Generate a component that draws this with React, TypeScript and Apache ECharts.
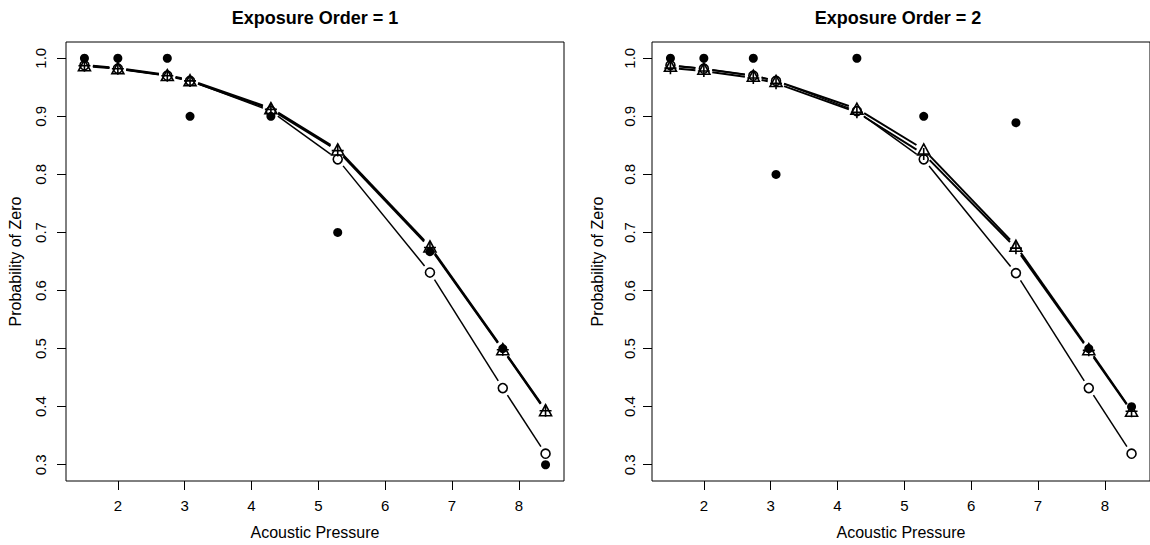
import React, { useEffect, useRef } from "react";
import * as echarts from "echarts";

// Acoustic pressure levels (x)
const pressure = [1.5, 2.0, 2.74, 3.08, 4.29, 5.29, 6.67, 7.76, 8.4];
const xTicks = [2, 3, 4, 5, 6, 7, 8];
const yTicks = [0.3, 0.4, 0.5, 0.6, 0.7, 0.8, 0.9, 1.0];

// Exposure Order = 1
const observed1 = [1.0, 1.0, 1.0, 0.9, 0.9, 0.7, 0.667, 0.5, 0.3];
const circleModel1 = [0.988, 0.982, 0.97, 0.961, 0.909, 0.826, 0.631, 0.432, 0.319];
const triangleModel1 = [0.988, 0.983, 0.971, 0.962, 0.914, 0.843, 0.676, 0.499, 0.394];
const plusModel1 = [0.987, 0.982, 0.97, 0.961, 0.912, 0.841, 0.674, 0.498, 0.393];

// Exposure Order = 2
const observed2 = [1.0, 1.0, 1.0, 0.8, 1.0, 0.9, 0.889, 0.5, 0.4];
const circleModel2 = [0.988, 0.982, 0.97, 0.961, 0.909, 0.826, 0.63, 0.432, 0.319];
const triangleModel2 = [0.987, 0.982, 0.97, 0.961, 0.913, 0.843, 0.677, 0.499, 0.393];
const plusModel2 = [0.983, 0.978, 0.966, 0.957, 0.907, 0.835, 0.673, 0.497, 0.392];

const FONT = "'Liberation Sans', Arial, Helvetica, sans-serif";
const PLUS_PATH = "path://M0,5L10,5M5,0L5,10";

function gapLine(xs: number[], ys: number[], idx: number, lw: number) {
  return {
    type: "custom",
    xAxisIndex: idx,
    yAxisIndex: idx,
    silent: true,
    clip: false,
    data: xs.map((x, i) => [x, ys[i]]),
    renderItem: (params: any, api: any) => {
      const i = params.dataIndex;
      if (i >= xs.length - 1) return { type: "group", children: [] };
      const p0 = api.coord([xs[i], ys[i]]);
      const p1 = api.coord([xs[i + 1], ys[i + 1]]);
      const dx = p1[0] - p0[0];
      const dy = p1[1] - p0[1];
      const len = Math.hypot(dx, dy);
      const g = 8.5;
      if (len <= 2 * g) return { type: "group", children: [] };
      const ux = dx / len;
      const uy = dy / len;
      return {
        type: "line",
        shape: {
          x1: p0[0] + ux * g,
          y1: p0[1] + uy * g,
          x2: p1[0] - ux * g,
          y2: p1[1] - uy * g,
        },
        style: { stroke: "#000", lineWidth: lw },
      };
    },
  };
}

function scatter(xs: number[], ys: number[], idx: number, kind: string) {
  const base: any = {
    type: "scatter",
    xAxisIndex: idx,
    yAxisIndex: idx,
    silent: true,
    data: xs.map((x, i) => [x, ys[i]]),
  };
  const open = { color: "rgba(0,0,0,0)", borderColor: "#000", borderWidth: 1.6, opacity: 1 };
  if (kind === "filled") {
    base.symbol = "circle";
    base.symbolSize = 9;
    base.itemStyle = { color: "#000", opacity: 1 };
  } else if (kind === "circle") {
    base.symbol = "circle";
    base.symbolSize = 9;
    base.itemStyle = open;
  } else if (kind === "triangle") {
    base.symbol = "triangle";
    base.symbolSize = [12, 11];
    base.itemStyle = open;
  } else {
    base.symbol = PLUS_PATH;
    base.symbolSize = 12;
    base.itemStyle = open;
  }
  return base;
}

function xAxisFor(idx: number) {
  return {
    type: "value",
    gridIndex: idx,
    min: 1.224,
    max: 8.676,
    name: "Acoustic Pressure",
    nameLocation: "middle",
    nameGap: 43,
    nameTextStyle: { fontSize: 16, color: "#000", fontFamily: FONT },
    axisLine: { show: false },
    axisTick: { show: true, customValues: xTicks, length: 9, lineStyle: { color: "#000", width: 1 } },
    axisLabel: { customValues: xTicks, fontSize: 15, color: "#000", margin: 17, fontFamily: FONT },
    splitLine: { show: false },
  };
}

function yAxisFor(idx: number, labelMargin: number, nameGap: number) {
  return {
    type: "value",
    gridIndex: idx,
    min: 0.272,
    max: 1.028,
    name: "Probability of Zero",
    nameLocation: "middle",
    nameGap: nameGap,
    nameTextStyle: { fontSize: 16, color: "#000", fontFamily: FONT },
    axisLine: { show: false },
    axisTick: { show: true, customValues: yTicks, length: 9, lineStyle: { color: "#000", width: 1 } },
    axisLabel: {
      customValues: yTicks,
      fontSize: 15,
      color: "#000",
      rotate: 90,
      margin: labelMargin,
      fontFamily: FONT,
      formatter: (v: number) => v.toFixed(1),
    },
    splitLine: { show: false },
  };
}

export default function App() {
  const ref = useRef<HTMLDivElement>(null);
  useEffect(() => {
    if (!ref.current) return;
    const chart = echarts.init(ref.current, null, { renderer: "svg" });
    chart.setOption({
      animation: false,
      backgroundColor: "#fff",
      textStyle: { fontFamily: FONT },
      grid: [
        { left: 66, right: 586, top: 42, bottom: 63, show: true, borderColor: "#000", borderWidth: 1, backgroundColor: "transparent" },
        { left: 652, right: 0, top: 42, bottom: 63, show: true, borderColor: "#000", borderWidth: 1, backgroundColor: "transparent" },
      ],
      xAxis: [xAxisFor(0), xAxisFor(1)],
      yAxis: [yAxisFor(0, 18, 43), yAxisFor(1, 15, 47)],
      graphic: [
        {
          type: "text",
          x: 315,
          y: 18,
          style: { text: "Exposure Order = 1", font: `bold 18px ${FONT}`, fill: "#000", align: "center", verticalAlign: "middle" },
        },
        {
          type: "text",
          x: 898,
          y: 18,
          style: { text: "Exposure Order = 2", font: `bold 18px ${FONT}`, fill: "#000", align: "center", verticalAlign: "middle" },
        },
      ],
      series: [
        gapLine(pressure, circleModel1, 0, 1.5),
        gapLine(pressure, triangleModel1, 0, 2.2),
        gapLine(pressure, plusModel1, 0, 2.2),
        scatter(pressure, observed1, 0, "filled"),
        scatter(pressure, circleModel1, 0, "circle"),
        scatter(pressure, triangleModel1, 0, "triangle"),
        scatter(pressure, plusModel1, 0, "plus"),
        gapLine(pressure, circleModel2, 1, 1.5),
        gapLine(pressure, triangleModel2, 1, 2.0),
        gapLine(pressure, plusModel2, 1, 2.0),
        scatter(pressure, observed2, 1, "filled"),
        scatter(pressure, circleModel2, 1, "circle"),
        scatter(pressure, triangleModel2, 1, "triangle"),
        scatter(pressure, plusModel2, 1, "plus"),
      ],
    });
    return () => chart.dispose();
  }, []);
  return (
    <div
      ref={ref}
      style={{ position: "absolute", left: 0, top: 0, width: 1150, height: 545 }}
    />
  );
}
